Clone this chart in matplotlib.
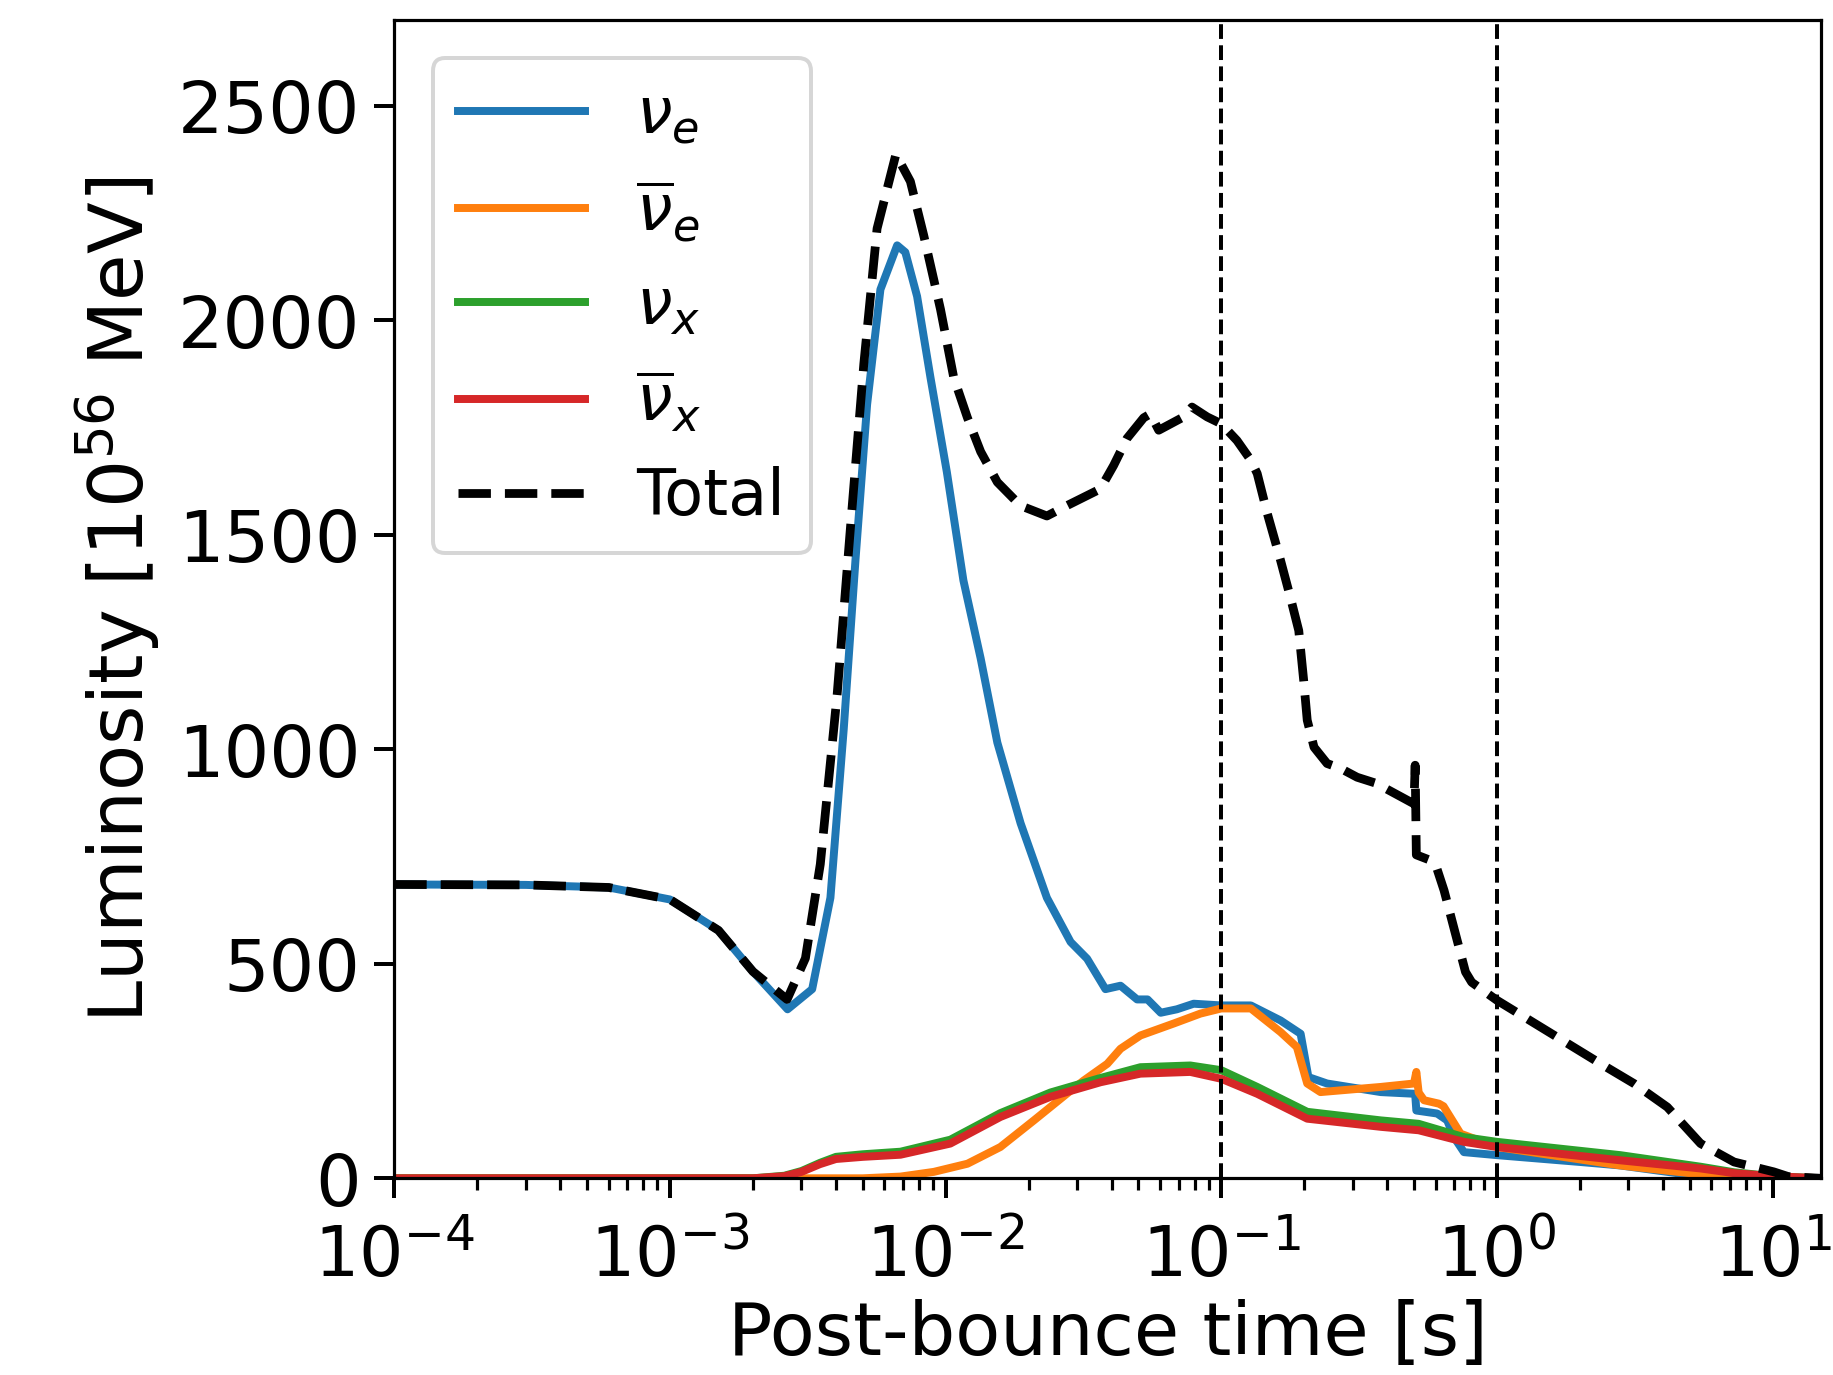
import numpy as np
import matplotlib
matplotlib.use("Agg")
import matplotlib.pyplot as plt

# ---- data ----
t_nue = [1e-4, 3e-4, 6e-4, 1e-3, 1.5e-3, 2e-3, 2.67e-3, 3.28e-3, 3.82e-3, 4.27e-3, 4.71e-3,
         5.19e-3, 5.8e-3, 6.67e-3, 7.14e-3, 7.88e-3, 8.81e-3, 1.01e-2, 1.16e-2, 1.34e-2,
         1.54e-2, 1.87e-2, 2.33e-2, 2.84e-2, 3.26e-2, 3.8e-2, 4.31e-2, 4.95e-2, 5.4e-2,
         6.03e-2, 6.9e-2, 7.94e-2, 0.1, 0.128, 0.164, 0.194, 0.207, 0.242, 0.379, 0.505,
         0.51, 0.607, 0.66, 0.7, 0.759, 1.0, 2.01, 2.8, 5.0, 6.0, 15.0]
L_nue = [685, 684, 678, 650, 578, 482, 394, 441, 654, 1048, 1442,
         1804, 2072, 2175, 2159, 2056, 1867, 1647, 1394, 1212,
         1016, 828, 654, 551, 512, 441, 449, 417, 417,
         386, 394, 407, 403, 403, 368, 337, 236, 221, 201, 197,
         158, 151, 135, 95, 61, 54, 38, 30, 8, 0, 0]

t_anue = [1e-4, 5e-3, 6.86e-3, 9.06e-3, 1.2e-2, 1.58e-2, 2.09e-2, 2.75e-2, 3.17e-2, 3.86e-2,
          4.31e-2, 5.09e-2, 6.73e-2, 8.4e-2, 0.1, 0.128, 0.164, 0.188, 0.205, 0.229, 0.379,
          0.5, 0.51, 0.52, 0.544, 0.616, 0.64, 0.738, 1.0, 2.8, 5.0, 8.0, 15.0]
L_anue = [0, 0, 4, 15, 34, 73, 135, 197, 228, 267,
          302, 333, 361, 384, 396, 396, 341, 306, 221, 201, 213,
          221, 248, 200, 182, 174, 168, 104, 73, 30, 12, 3, 0]

t_nux = [1e-4, 2e-3, 2.6e-3, 3e-3, 3.5e-3, 4e-3, 5e-3, 6.86e-3, 1.04e-2, 1.58e-2, 2.4e-2,
         3.65e-2, 5.09e-2, 7.72e-2, 0.1, 0.135, 0.205, 0.379, 0.52, 0.759, 1.0, 2.8, 5.48,
         7.25, 10.0, 15.0]
L_nux = [0, 0, 6, 17, 36, 50, 56, 62, 90, 152, 200,
         234, 259, 263, 252, 213, 155, 135, 127, 96, 85, 54, 27,
         14, 5, 0]

t_anux = [1e-4, 2e-3, 2.6e-3, 3e-3, 3.5e-3, 4e-3, 5e-3, 6.86e-3, 1.04e-2, 1.58e-2, 2.4e-2,
          3.65e-2, 5.09e-2, 7.72e-2, 0.1, 0.135, 0.205, 0.379, 0.52, 0.759, 1.0, 2.8, 5.48,
          7.25, 10.0, 15.0]
L_anux = [0, 0, 5, 15, 33, 45, 50, 55, 81, 143, 190,
          224, 244, 248, 232, 197, 139, 120, 112, 85, 73, 42, 23,
          12, 5, 0]

t_tot = [1e-4, 3e-4, 6e-4, 1e-3, 1.5e-3, 2e-3, 2.66e-3, 3.1e-3, 3.51e-3, 4.04e-3, 4.52e-3,
         5.05e-3, 5.64e-3, 6.6e-3, 7.45e-3, 8.33e-3, 9.58e-3, 1.07e-2, 1.2e-2, 1.34e-2,
         1.54e-2, 1.87e-2, 2.33e-2, 2.75e-2, 3.64e-2, 4.07e-2, 4.55e-2, 5.23e-2, 5.53e-2,
         5.93e-2, 7.3e-2, 7.83e-2, 8.89e-2, 0.1, 0.114, 0.128, 0.135, 0.147, 0.164, 0.178,
         0.191, 0.199, 0.205, 0.217, 0.242, 0.27, 0.311, 0.364, 0.462, 0.5, 0.505, 0.51,
         0.57, 0.6, 0.643, 0.703, 0.769, 0.81, 1.0, 2.38, 3.14, 4.15, 5.48, 7.25, 10.1,
         11.4, 15.0]
L_tot = [685, 684, 678, 650, 578, 482, 417, 513, 732, 1127, 1520,
         1899, 2214, 2387, 2324, 2198, 2026, 1867, 1773, 1694,
         1623, 1568, 1544, 1568, 1607, 1662, 1725, 1773, 1782,
         1744, 1775, 1798, 1775, 1759, 1720, 1674, 1643, 1549, 1441, 1355,
         1277, 1161, 1068, 1005, 967, 956, 935, 921, 885, 873, 963, 754,
         742, 730, 671, 576, 481, 457, 415, 267, 221, 166, 81, 38, 15,
         4, 0]

labels = [r"$\nu_e$", r"$\overline{\nu}_e$", r"$\nu_x$", r"$\overline{\nu}_x$", "Total"]
colors = ["#1f77b4", "#ff7f0e", "#2ca02c", "#d62728", "k"]
vlines = [0.1, 1.0]
yticks = [0, 500, 1000, 1500, 2000, 2500]

fig = plt.figure(figsize=(6.4, 4.8), dpi=286.56)
ax = fig.add_axes([0.215, 0.143, 0.778, 0.842])

series = [(t_nue, L_nue), (t_anue, L_anue), (t_nux, L_nux), (t_anux, L_anux)]
for (t, L), lab, c in zip(series, labels[:4], colors[:4]):
    ax.plot(t, L, color=c, lw=2.0, label=lab)
ax.plot(t_tot, L_tot, color=colors[4], lw=2.2, ls="--", label=labels[4])

for v in vlines:
    ax.axvline(v, color="k", ls="--", lw=1.0)

ax.set_xscale("log")
ax.set_xlim(1e-4, 15)
ax.set_ylim(0, 2700)
ax.set_yticks(yticks)
ax.tick_params(axis="y", which="major", labelsize=18, length=5, width=1)
ax.tick_params(axis="x", which="major", labelsize=17.5, length=5, width=1, pad=6)
ax.tick_params(axis="both", which="minor", length=3, width=0.8)
ax.set_xlabel("Post-bounce time [s]", fontsize=18.5, labelpad=2)
ax.set_ylabel(r"Luminosity [$10^{56}$ MeV]", fontsize=19)
ax.legend(loc="upper left", fontsize=16, borderaxespad=0.6, handlelength=2.0)

fig.savefig("out.png", dpi=286.56)
